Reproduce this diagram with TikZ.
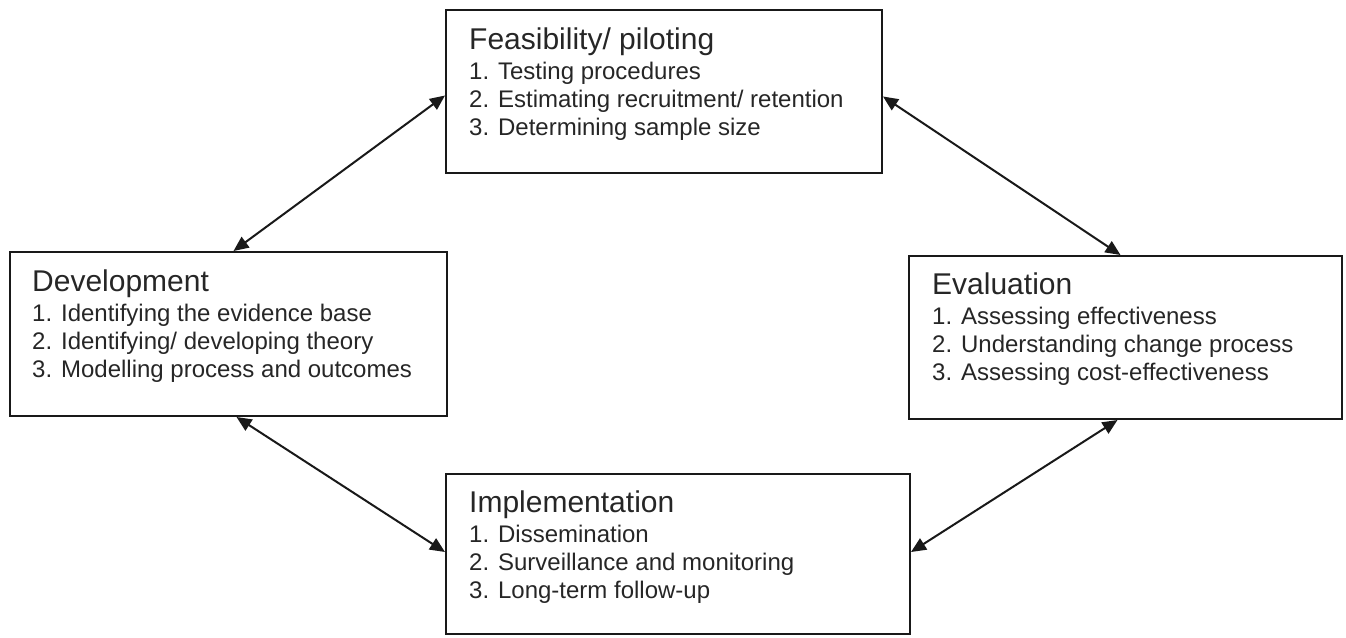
\documentclass[tikz,border=0pt]{standalone}
\usepackage{fontspec}
\setmainfont{Liberation Sans}
\usetikzlibrary{arrows.meta}
\tikzset{
  stage/.style={draw=black!90, line width=2pt, rectangle, inner sep=0pt},
  ttl/.style={anchor=base west, inner sep=0pt, font=\fontsize{30}{31}\selectfont, text=black!85},
  items/.style={anchor=base west, inner sep=0pt, align=left, font=\fontsize{24}{28}\selectfont, text=black!85},
  link/.style={line width=2pt, draw=black!90, {Triangle[length=15pt,width=13pt]}-{Triangle[length=15pt,width=13pt]}}
}
\begin{document}
\begin{tikzpicture}[x=1pt,y=-1pt]
\useasboundingbox (0,0) rectangle (1346,637);
% boxes
\node[stage, minimum width=436pt, minimum height=163pt] (feas) at (664,91.5) {};
\node[stage, minimum width=437pt, minimum height=164pt] (dev) at (228.5,334) {};
\node[stage, minimum width=433pt, minimum height=163pt] (eval) at (1125.5,337.5) {};
\node[stage, minimum width=464pt, minimum height=160pt] (impl) at (678,554) {};
% texts (items anchored at the baseline of their last line)
\node[ttl] (feasT) at ([shift={(24pt,-40pt)}]feas.north west) {Feasibility/ piloting};
\node[items] (feasI) at ([shift={(24pt,-126pt)}]feas.north west) {1. Testing procedures\\2. Estimating recruitment/ retention\\3. Determining sample size};
\node[ttl] (devT) at ([shift={(23pt,-40pt)}]dev.north west) {Development};
\node[items] (devI) at ([shift={(23pt,-126pt)}]dev.north west) {1. Identifying the evidence base\\2. Identifying/ developing theory\\3. Modelling process and outcomes};
\node[ttl] (evalT) at ([shift={(24pt,-39pt)}]eval.north west) {Evaluation};
\node[items] (evalI) at ([shift={(24pt,-125pt)}]eval.north west) {1. Assessing effectiveness\\2. Understanding change process\\3. Assessing cost-effectiveness};
\node[ttl] (implT) at ([shift={(24pt,-39pt)}]impl.north west) {Implementation};
\node[items] (implI) at ([shift={(24pt,-125pt)}]impl.north west) {1. Dissemination\\2. Surveillance and monitoring\\3. Long-term follow-up};
% connectors
\draw[link] ([yshift=-4pt]feas.west) -- ([xshift=5pt]dev.north);
\draw[link] ([yshift=-5pt]feas.east) -- ([xshift=-5pt]eval.north);
\draw[link] ([xshift=8pt]dev.south) -- ([yshift=2pt]impl.west);
\draw[link] ([xshift=-8pt]eval.south) -- ([yshift=2pt]impl.east);
\end{tikzpicture}
\end{document}
